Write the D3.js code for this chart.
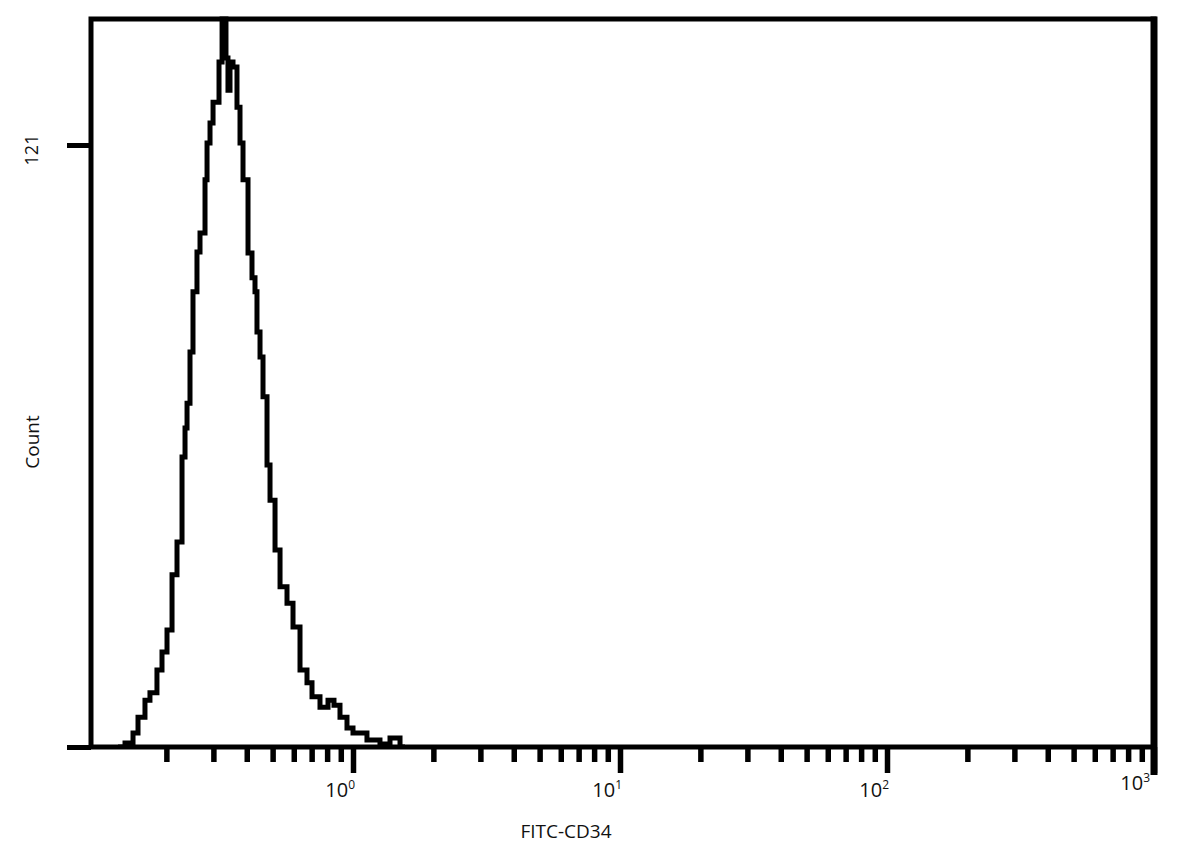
<!DOCTYPE html>
<html>
<head>
<meta charset="utf-8">
<script src="https://cdn.jsdelivr.net/npm/d3@7"></script>
<style>
  body { margin: 0; background: #fff; }
  text { font-family: "Open Sans", sans-serif; fill: #111; }
</style>
</head>
<body>
<svg id="chart"></svg>
<script>
// FITC channel value at the start of each histogram step, and its count
const fitc = [
  0.1318, 0.14, 0.15, 0.1566, 0.1663, 0.1736, 0.1844, 0.1926, 0.2011, 0.21,
  0.2192, 0.2289, 0.2349, 0.239, 0.2452, 0.2516, 0.2604, 0.2673, 0.2791, 0.284,
  0.2914, 0.2991, 0.3149, 0.3233, 0.3344, 0.3402, 0.3462, 0.3553, 0.3677, 0.3774,
  0.3873, 0.4044, 0.4185, 0.4295, 0.4369, 0.4485, 0.4602, 0.4764, 0.4889, 0.5105,
  0.533, 0.566, 0.5961, 0.6332, 0.6725, 0.7022, 0.7523, 0.8061, 0.8488, 0.8939,
  0.9495, 1.0, 1.128, 1.262, 1.376, 1.5, 1.566
];
const counts = [
  0, 0.8, 2.8, 6.0, 9.4, 10.9, 15.5, 19.1, 23.5, 34.6,
  41.2, 58.3, 64.1, 69.1, 79.4, 91.5, 99.5, 103.3, 114.0, 121.4,
  125.4, 129.6, 137.7, 147, 138.5, 132.0, 137.7, 136.7, 128.6, 121.4,
  114.0, 99.3, 94.3, 91.5, 83.4, 78.4, 70.4, 56.7, 49.6, 39.6,
  32.2, 28.9, 24.1, 15.5, 12.9, 10.1, 8.0, 9.4, 8.4, 6.0,
  3.8, 2.8, 1.4, 0.6, 1.8, 0, 0
];
const majorTicks = [1, 10, 100, 1000];
const majorExp = ["0", "1", "2", "3"];
const yTicks = [0, 121];
const yTickLabels = ["", "121"];

const W = 1181, H = 856;
const frame = { left: 91, top: 19, right: 1154, bottom: 747 };

const svg = d3.select("#chart").attr("width", W).attr("height", H);

const x = d3.scaleLog().domain([0.1, 1000]).range([86, 1154]);
const y = d3.scaleLinear().domain([0, 121]).range([747, 145]);

// clip for the histogram
svg.append("clipPath").attr("id", "clip")
  .append("rect")
  .attr("x", frame.left)
  .attr("y", frame.top - 2.5)
  .attr("width", frame.right - frame.left)
  .attr("height", frame.bottom - frame.top + 2.5);

const data = fitc.map((v, i) => ({ v: v, c: counts[i] }));
const line = d3.line()
  .x((d) => x(d.v))
  .y((d) => y(d.c))
  .curve(d3.curveStepAfter);

svg.append("path")
  .datum(data)
  .attr("clip-path", "url(#clip)")
  .attr("fill", "none")
  .attr("stroke", "#000")
  .attr("stroke-width", 5)
  .attr("stroke-linejoin", "miter")
  .attr("d", line);

// minor + major ticks on the bottom
const minor = x.ticks().filter((t) => x(t) > frame.left + 3 && !majorTicks.includes(t));

function tickAxis(g, values, size) {
  g.attr("transform", `translate(0, ${frame.bottom})`)
    .call(d3.axisBottom(x).tickValues(values).tickSize(size).tickFormat(""));
  g.select(".domain").remove();
  g.selectAll("line").attr("stroke", "#000").attr("stroke-width", 5.5);
}
svg.append("g").call((g) => tickAxis(g, minor, 15));
svg.append("g").call((g) => tickAxis(g, majorTicks, 26));

// y ticks stick out to the left
function yAxis(g) {
  g.attr("transform", `translate(${frame.left}, 0)`)
    .call(d3.axisLeft(y).tickValues(yTicks).tickSize(24).tickFormat(""));
  g.select(".domain").remove();
  g.selectAll("line").attr("stroke", "#000").attr("stroke-width", 5);
}
svg.append("g").call(yAxis);

// frame
svg.append("rect")
  .attr("x", frame.left)
  .attr("y", frame.top)
  .attr("width", frame.right - frame.left)
  .attr("height", frame.bottom - frame.top)
  .attr("fill", "none")
  .attr("stroke", "#000")
  .attr("stroke-width", 5);
svg.append("line")
  .attr("x1", frame.right).attr("x2", frame.right)
  .attr("y1", frame.top - 2.5).attr("y2", frame.bottom + 28)
  .attr("stroke", "#000").attr("stroke-width", 7);

// decade labels 10^n
majorTicks.forEach((t, i) => {
  const last = i === majorTicks.length - 1;
  const lbl = svg.append("text")
    .attr("x", x(t) + (last ? -4 : 2))
    .attr("y", last ? 790 : 797)
    .attr("text-anchor", "end")
    .attr("font-size", 20);
  lbl.append("tspan").text("10");
  lbl.append("tspan").attr("font-size", 12).attr("dy", -8).text(majorExp[i]);
});

// y tick label
yTicks.forEach((t, i) => {
  if (!yTickLabels[i]) return;
  svg.append("text")
    .attr("transform", `translate(38, ${y(t) + 5}) rotate(-90)`)
    .attr("text-anchor", "middle")
    .attr("font-size", 18)
    .text(yTickLabels[i]);
});

svg.append("text")
  .attr("transform", "translate(39, 442) rotate(-90)")
  .attr("text-anchor", "middle")
  .attr("font-size", 19)
  .text("Count");

svg.append("text")
  .attr("x", 566)
  .attr("y", 838)
  .attr("text-anchor", "middle")
  .attr("font-size", 19)
  .text("FITC-CD34");
</script>
</body>
</html>
